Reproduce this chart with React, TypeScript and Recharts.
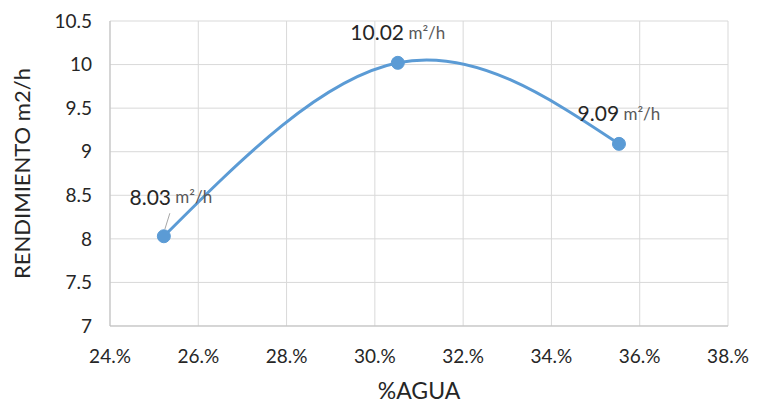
import React from "react";
import { LineChart, Line, XAxis, YAxis, CartesianGrid, Label } from "recharts";

const waterPct = [0.2522, 0.3052, 0.3553];
const yieldValues = [8.03, 10.02, 9.09];
const unitLabel = "m²/h";
const xTicks = [0.24, 0.26, 0.28, 0.3, 0.32, 0.34, 0.36, 0.38];
const yTicks = [7, 7.5, 8, 8.5, 9, 9.5, 10, 10.5];

const data = waterPct.map((x, i) => ({ x, y: yieldValues[i] }));

const FONT = "Lato, 'Noto Sans', sans-serif";

const PointLabel = (props: any) => {
  const { x, y, value, index } = props;
  const leader = index === 0;
  const dy = leader ? -40 : -31;
  const dx = leader ? 7 : 0;
  return (
    <g>
      {leader && (
        <line x1={x + 6} y1={y - 23} x2={x + 1} y2={y - 7} stroke="#a6a6a6" strokeWidth={1} />
      )}
      <text
        x={x + dx}
        y={y + dy}
        textAnchor="middle"
        dominantBaseline="central"
        fontFamily={FONT}
        fontSize={21}
        fill="#262626"
      >
        {value.toFixed(2)}
        <tspan fontSize={17} fill="#595959">{" " + unitLabel}</tspan>
      </text>
    </g>
  );
};

export default function App() {
  return (
    <div style={{ position: "absolute", left: 0, top: 0, background: "#fff" }}>
      <LineChart width={760} height={406} data={data} margin={{ top: 21, right: 32, left: 40, bottom: 32 }}>
        <CartesianGrid stroke="#d9d9d9" strokeWidth={1} />
        <XAxis
          dataKey="x"
          type="number"
          domain={[0.24, 0.38]}
          ticks={xTicks}
          tickFormatter={(v: number) => `${Math.round(v * 100)}.%`}
          tickLine={false}
          axisLine={{ stroke: "#bfbfbf" }}
          tick={{ fontFamily: FONT, fontSize: 19, fill: "#262626" }}
          tickMargin={18}
          height={48}
          interval={0}
        >
          <Label value="%AGUA" position="insideBottom" offset={-25} style={{ fontFamily: FONT, fontSize: 23, fill: "#262626" }} />
        </XAxis>
        <YAxis
          type="number"
          domain={[7, 10.5]}
          ticks={yTicks}
          tickLine={false}
          axisLine={{ stroke: "#bfbfbf" }}
          tick={{ fontFamily: FONT, fontSize: 19, fill: "#262626" }}
          tickMargin={12}
          width={70}
          interval={0}
        >
          <Label
            value="RENDIMIENTO m2/h"
            angle={-90}
            position="insideLeft"
            offset={-18}
            style={{ textAnchor: "middle", fontFamily: FONT, fontSize: 22, fill: "#262626" }}
          />
        </YAxis>
        <Line
          type="natural"
          dataKey="y"
          stroke="#5b9bd5"
          strokeWidth={3}
          dot={{ r: 6.5, fill: "#5b9bd5", stroke: "#5b9bd5", strokeWidth: 1 }}
          activeDot={false}
          isAnimationActive={false}
          label={<PointLabel />}
        />
      </LineChart>
    </div>
  );
}
